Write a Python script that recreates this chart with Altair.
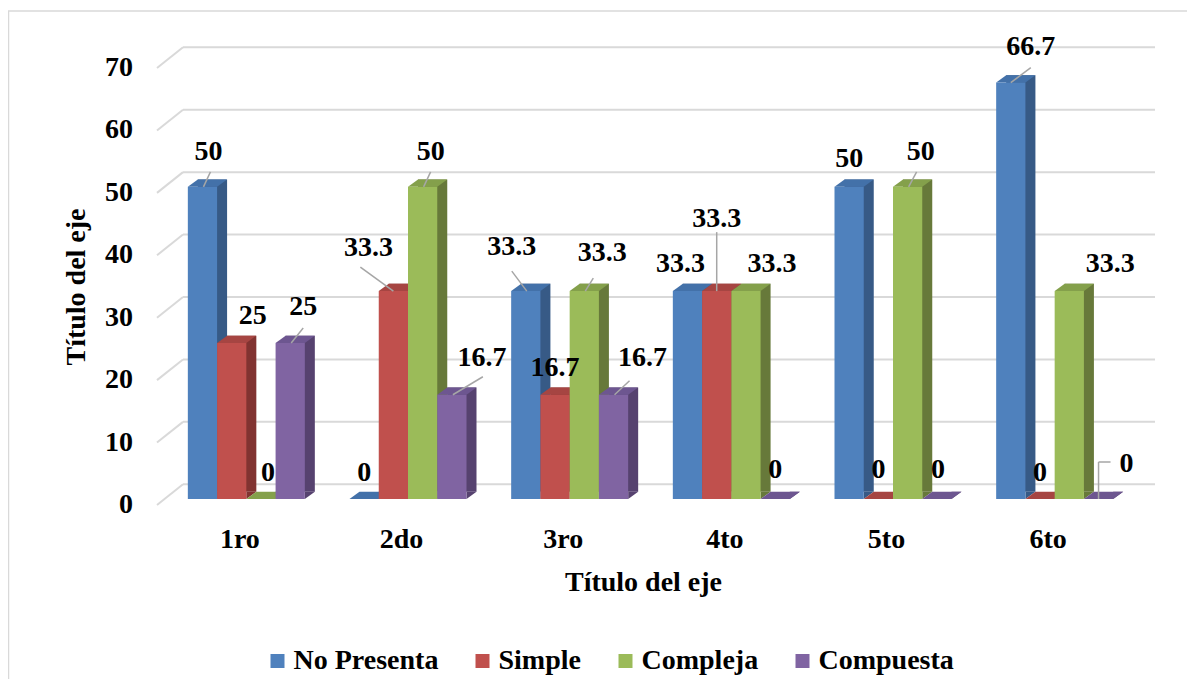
import altair as alt
import pandas as pd

# ---------------- data ----------------
categories = ["1ro", "2do", "3ro", "4to", "5to", "6to"]
series = ["No Presenta", "Simple", "Compleja", "Compuesta"]
no_presenta = [50, 0, 33.3, 33.3, 50, 66.7]
simple = [25, 33.3, 16.7, 33.3, 0, 0]
compleja = [0, 50, 33.3, 33.3, 50, 33.3]
compuesta = [25, 16.7, 16.7, 0, 0, 0]
y_ticks = [0, 10, 20, 30, 40, 50, 60, 70]
axis_title = "Título del eje"

# ---------------- styles / layout ----------------
front_colors = ["#4F81BD", "#C0504D", "#9BBB59", "#8064A2"]
side_colors = ["#375A86", "#813331", "#67793A", "#56426F"]
top_colors = ["#4371A9", "#A64542", "#84A04B", "#6D5690"]
FONT = "Liberation Serif"
FS = 28
GRID = "#D9D9D9"
LEADER = "#A6A6A6"

W, H = 970, 437
STEP = W / 6.0            # pixels per category unit
PXV = H / 70.0            # pixels per value unit
BAR_W = 29.25             # bar width px
DX, DY = 10, -7.3         # 3D depth px

# label nudges in px (dx, dy) relative to the top centre of each bar
label_nudge = {
    "No Presenta": [(6, -35), (0, -26), (-14, -44), (-7, -27), (0, -28), (20, -36)],
    "Simple": [(21, -27), (-25, -43), (0, -27), (0, -72), (0, -29), (0, -26)],
    "Compleja": [(7, -26), (8, -35), (18, -38), (26, -27), (13, -35), (41, -27)],
    "Compuesta": [(13, -36), (30, -37), (29, -37), (0, -29), (1, -29), (28, -35)],
}
# leader segments (series, category index, dx1, dy1, dx2, dy2) in px
leaders = [
    ("No Presenta", 0, 1, 0, 8, -15),
    ("Compuesta", 0, 1, 0, 13, -15),
    ("Simple", 1, 0, 0, -33, -24),
    ("Compleja", 1, 1, 0, 8, -15),
    ("Compuesta", 1, 1, 0, 31, -18),
    ("No Presenta", 2, 1, 0, -14, -20),
    ("Compleja", 2, 1, 0, 9, -13),
    ("Compuesta", 2, 1, 0, 16, -14),
    ("Simple", 3, 0, 0, 0, -59),
    ("Compleja", 4, 1, 0, 9, -15),
    ("No Presenta", 5, 0, 0, 20, -15),
    ("Compuesta", 5, 0, 0, 0, -37),
    ("Compuesta", 5, 0, -37, 12, -37),
]

values = {"No Presenta": no_presenta, "Simple": simple,
          "Compleja": compleja, "Compuesta": compuesta}

rows = []
for j, s in enumerate(series):
    for i, c in enumerate(categories):
        v = values[s][i]
        xc = i + (j - 1.5) * BAR_W / STEP
        ndx, ndy = label_nudge[s][i]
        rows.append({
            "series": s, "cat": c, "value": v, "zero": 0,
            "xc": xc, "xl": xc - BAR_W / 2 / STEP, "xr": xc + BAR_W / 2 / STEP,
            "lx": xc + ndx / STEP, "ly": v - ndy / PXV,
            "label": (str(v) if v != int(v) else str(int(v))),
        })
df = pd.DataFrame(rows)

lrows = []
for s, i, dx1, dy1, dx2, dy2 in leaders:
    j = series.index(s)
    v = values[s][i]
    xc = i + (j - 1.5) * BAR_W / STEP
    lrows.append({"x1": xc + dx1 / STEP, "y1": v - dy1 / PXV,
                  "x2": xc + dx2 / STEP, "y2": v - dy2 / PXV})
ldf = pd.DataFrame(lrows)

tick_df = pd.DataFrame({"tick": y_ticks, "tlabel": [str(t) for t in y_ticks]})
cat_df = pd.DataFrame({"idx": list(range(len(categories))), "cat": categories})
one = pd.DataFrame({"t": [axis_title]})

xs = alt.Scale(domain=[-0.5, 5.5], nice=False, zero=False)
ys = alt.Scale(domain=[0, 70], nice=False, zero=False)

txt = dict(font=FONT, fontSize=FS, fontWeight="bold", color="black")

# border (only the left and top edges fall inside the picture)
border = alt.Chart(pd.DataFrame({"a": [0]})).mark_rect(
    fill="white", fillOpacity=0, stroke="#D9D9D9", strokeWidth=1.5
).encode(x=alt.value(-157), x2=alt.value(1100), y=alt.value(-51), y2=alt.value(700))

# back wall gridlines
grid = alt.Chart(tick_df).mark_rule(color=GRID, strokeWidth=2, yOffset=-14.7).encode(
    y=alt.Y("tick:Q", scale=ys, axis=None), x=alt.value(17.5), x2=alt.value(989.5)
)
diag = alt.Chart(tick_df).mark_rule(color=GRID, strokeWidth=2, yOffset=6, y2Offset=-14.7).encode(
    y=alt.Y("tick:Q", scale=ys, axis=None), y2="tick:Q",
    x=alt.value(-8.5), x2=alt.value(17.5)
)
# y tick labels
ylab = alt.Chart(tick_df).mark_text(align="right", baseline="middle", dy=6, **txt).encode(
    y=alt.Y("tick:Q", scale=ys, axis=None), x=alt.value(-32.5), text="tlabel:N"
)
# x category labels
xlab = alt.Chart(cat_df).mark_text(align="center", baseline="middle", dx=-6.5, **txt).encode(
    x=alt.X("idx:Q", scale=xs, axis=None), y=alt.value(H + 40.5), text="cat:N"
)
xtitle = alt.Chart(one).mark_text(align="center", baseline="middle", **txt).encode(
    x=alt.value(478), y=alt.value(H + 84), text="t:N"
)
ytitle = alt.Chart(one).mark_text(align="center", baseline="middle", angle=270, **txt).encode(
    x=alt.value(-89), y=alt.value(225), text="t:N"
)

# side faces
side = alt.Chart(df).mark_rect(xOffset=DX, x2Offset=DX, yOffset=DY, y2Offset=DY).encode(
    x=alt.X("xl:Q", scale=xs, axis=None), x2="xr:Q",
    y=alt.Y("value:Q", scale=ys, axis=None), y2="zero:Q",
    color=alt.Color("series:N", scale=alt.Scale(domain=series, range=side_colors), legend=None),
)
tri_path = "M0,0 L0,{:.3f} L1,{:.3f} Z".format(DY / 10, DY / 10)
tri = alt.Chart(df).mark_point(shape=tri_path, size=400, filled=True, opacity=1, strokeWidth=0).encode(
    x=alt.X("xr:Q", scale=xs, axis=None),
    y=alt.Y("zero:Q", scale=ys, axis=None),
    color=alt.Color("series:N", scale=alt.Scale(domain=series, range=side_colors), legend=None),
)
h = BAR_W / 2 / 20
top_path = "M{a:.4f},0 L{b:.4f},0 L{c:.4f},{d:.4f} L{e:.4f},{d:.4f} Z".format(
    a=-h, b=h, c=h + DX / 20, d=DY / 20, e=-h + DX / 20)
top = alt.Chart(df).mark_point(shape=top_path, size=1600, filled=True, opacity=1, strokeWidth=0).encode(
    x=alt.X("xc:Q", scale=xs, axis=None),
    y=alt.Y("value:Q", scale=ys, axis=None),
    color=alt.Color("series:N", scale=alt.Scale(domain=series, range=top_colors), legend=None),
)

# front faces with legend
front = alt.Chart(df).mark_rect().encode(
    x=alt.X("xl:Q", scale=xs, axis=None),
    x2="xr:Q",
    y=alt.Y("value:Q", scale=ys, axis=None),
    y2="zero:Q",
    color=alt.Color("series:N", sort=series,
                    scale=alt.Scale(domain=series, range=front_colors),
                    legend=alt.Legend(
                        title=None, orient="none", legendX=98, legendY=585,
                        direction="horizontal", symbolType="square", symbolSize=196,
                        symbolStrokeWidth=0, labelFont=FONT, labelFontSize=FS,
                        labelFontWeight="bold", labelColor="black", labelOffset=2,
                        columnPadding=30, padding=0, labelLimit=300)),
)

lead = alt.Chart(ldf).mark_rule(color=LEADER, strokeWidth=1.5).encode(
    x=alt.X("x1:Q", scale=xs, axis=None), x2="x2:Q",
    y=alt.Y("y1:Q", scale=ys, axis=None), y2="y2:Q",
)

labels = alt.Chart(df).mark_text(align="center", baseline="middle", **txt).encode(
    x=alt.X("lx:Q", scale=xs, axis=None),
    y=alt.Y("ly:Q", scale=ys, axis=None),
    text="label:N",
)

chart = alt.layer(border, grid, diag, ylab, xlab, xtitle, ytitle,
                  side, tri, top, front, lead, labels).resolve_scale(
    color="independent"
).properties(
    width=W, height=H, autosize=alt.AutoSizeParams(type="none"),
    padding={"left": 157.5, "top": 54, "right": 51, "bottom": 180},
).configure_view(stroke=None)

chart.save("out.html", embed_options={"renderer": "svg", "actions": False})
